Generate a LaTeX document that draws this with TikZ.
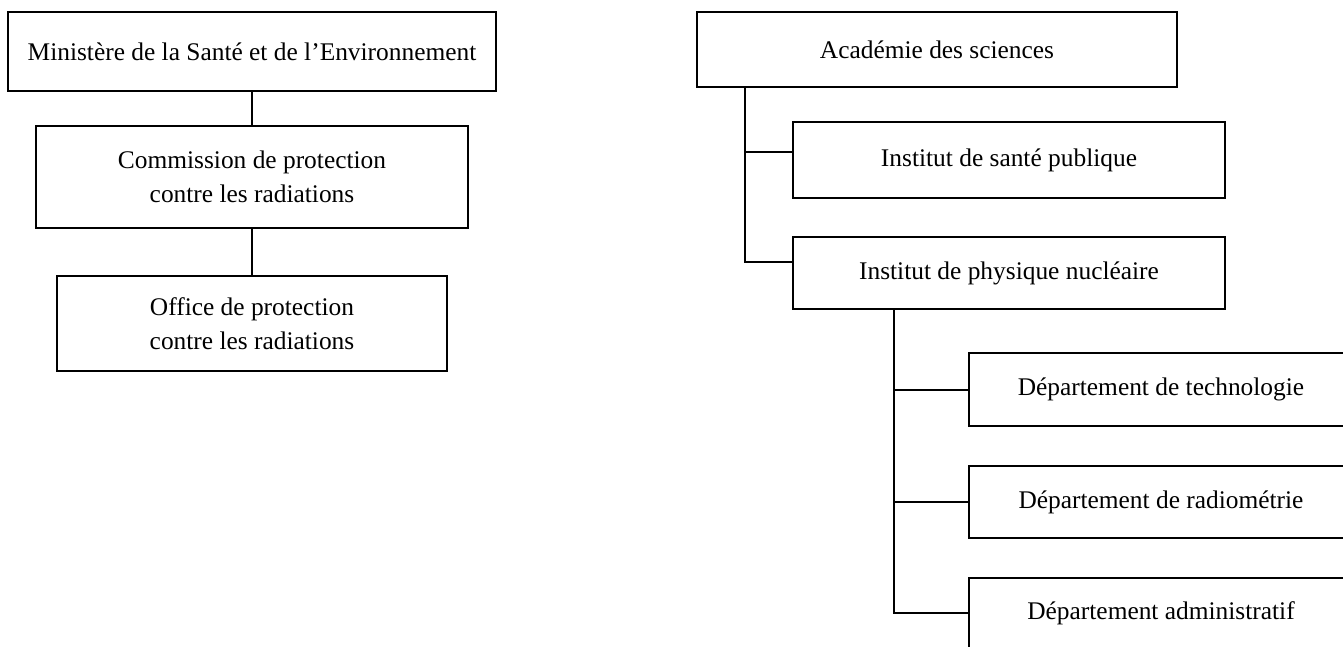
\documentclass[tikz,border=0pt]{standalone}
\usepackage{fontspec}
\setmainfont{Liberation Serif}
\begin{document}
\begin{tikzpicture}[x=0.5pt,y=-0.5pt,
	orgbox/.style={draw,line width=1pt,inner sep=0pt,align=center,font=\fontsize{12.7}{17}\selectfont},
	link/.style={line width=1pt}]
					\useasboundingbox (0,0) rectangle (1343,647);
					\clip (0,0) rectangle (1343,647);
					
					% left chart
					\node[orgbox,minimum width=244pt,minimum height=39.5pt] (Ministere) at (252,51.5) {Ministère de la Santé et de l’Environnement};
					\node[orgbox,minimum width=216pt,minimum height=51pt] (Commission) at (252,177) {Commission de protection\\ contre les radiations};
					\node[orgbox,minimum width=195pt,minimum height=47.5pt] (Office) at (252,323.5) {Office de protection\\contre les radiations};
					
					\draw [link] (Ministere) -- (Commission);
					\draw [link] (Commission) -- (Office);
					
					% right chart
					\node[orgbox,minimum width=240pt,minimum height=37.5pt] (Academie) at (937,49.5) {Académie des sciences};
					\node[orgbox,minimum width=216pt,minimum height=38pt] (Sante) at (1009,160) {Institut de santé publique};
					\node[orgbox,minimum width=216pt,minimum height=36pt] (Physique) at (1009,273) {Institut de physique nucléaire};
					
					\coordinate (Tone) at (745,87);
					\draw [link] (Tone) |- ([yshift=4pt]Sante.west);
					\draw [link] (Tone) |- ([yshift=5.5pt]Physique.west);
					
					\node[orgbox,minimum width=192pt,minimum height=36.5pt] (Techno) at (1161,389.5) {Département de technologie};
					\node[orgbox,minimum width=192pt,minimum height=36pt] (Radio) at (1161,502) {Département de radiométrie};
					\node[orgbox,minimum width=192pt,minimum height=35pt] (Admin) at (1161,613) {Département administratif};
					
					\coordinate (Ttwo) at (894,309);
					\draw [link] (Ttwo) |- (Techno.west);
					\draw [link] (Ttwo) |- (Radio.west);
					\draw [link] (Ttwo) |- (Admin.west);
					
\end{tikzpicture}
\end{document}
